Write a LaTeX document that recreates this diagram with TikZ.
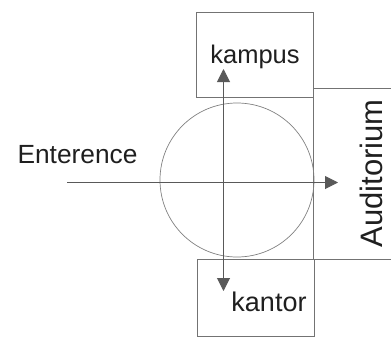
\documentclass[tikz,border=0pt]{standalone}
\usepackage{fontspec}
\setmainfont{Liberation Sans}
\usetikzlibrary{arrows.meta}
\begin{document}
\begin{tikzpicture}[x=1pt,y=-1pt,
  boxline/.style={draw=black!55,line width=0.8pt},
  conn/.style={draw=black!65,line width=1pt},
  tipshape/.style={-{Triangle[length=13pt,width=13pt]}},
  lbl/.style={inner sep=0pt,text=black!88}]
\useasboundingbox (0,0) rectangle (391,338);
\clip (0,0) rectangle (391,338);
\node[boxline,minimum width=117pt,minimum height=85pt,inner sep=0pt] (topbox) at (254.5,54.5) {};
\node[boxline,minimum width=117pt,minimum height=77pt,inner sep=0pt] (botbox) at (255.5,297.5) {};
\node[boxline,minimum width=100pt,minimum height=171pt,inner sep=0pt] (audbox) at (363,173.5) {};
\node[draw=black!50,line width=0.7pt,circle,minimum size=154pt,inner sep=0pt] (circ) at (237,180) {};
\coordinate (hstart) at (67,182.5);
\coordinate (hend) at (338,182.5);
\coordinate (vtop) at (223.5,69);
\coordinate (vbot) at (223.5,291);
\draw[conn,tipshape] (hstart) -- (hend);
\draw[conn,{Triangle[length=13pt,width=13pt]}-{Triangle[length=13pt,width=13pt]}] (vbot) -- (vtop);
\node[lbl,font=\fontsize{25.5}{30}\selectfont,anchor=base] (kampus) at (255,63) {kampus};
\node[lbl,font=\fontsize{27}{30}\selectfont,anchor=base] (kantor) at (269,311) {kantor};
\node[lbl,font=\fontsize{26.3}{30}\selectfont,anchor=base] (ent) at (77.5,163) {Enterence};
\node[lbl,font=\fontsize{31}{34}\selectfont,anchor=base,rotate=90] (aud) at (382.5,173.5) {Auditorium};
\end{tikzpicture}
\end{document}
